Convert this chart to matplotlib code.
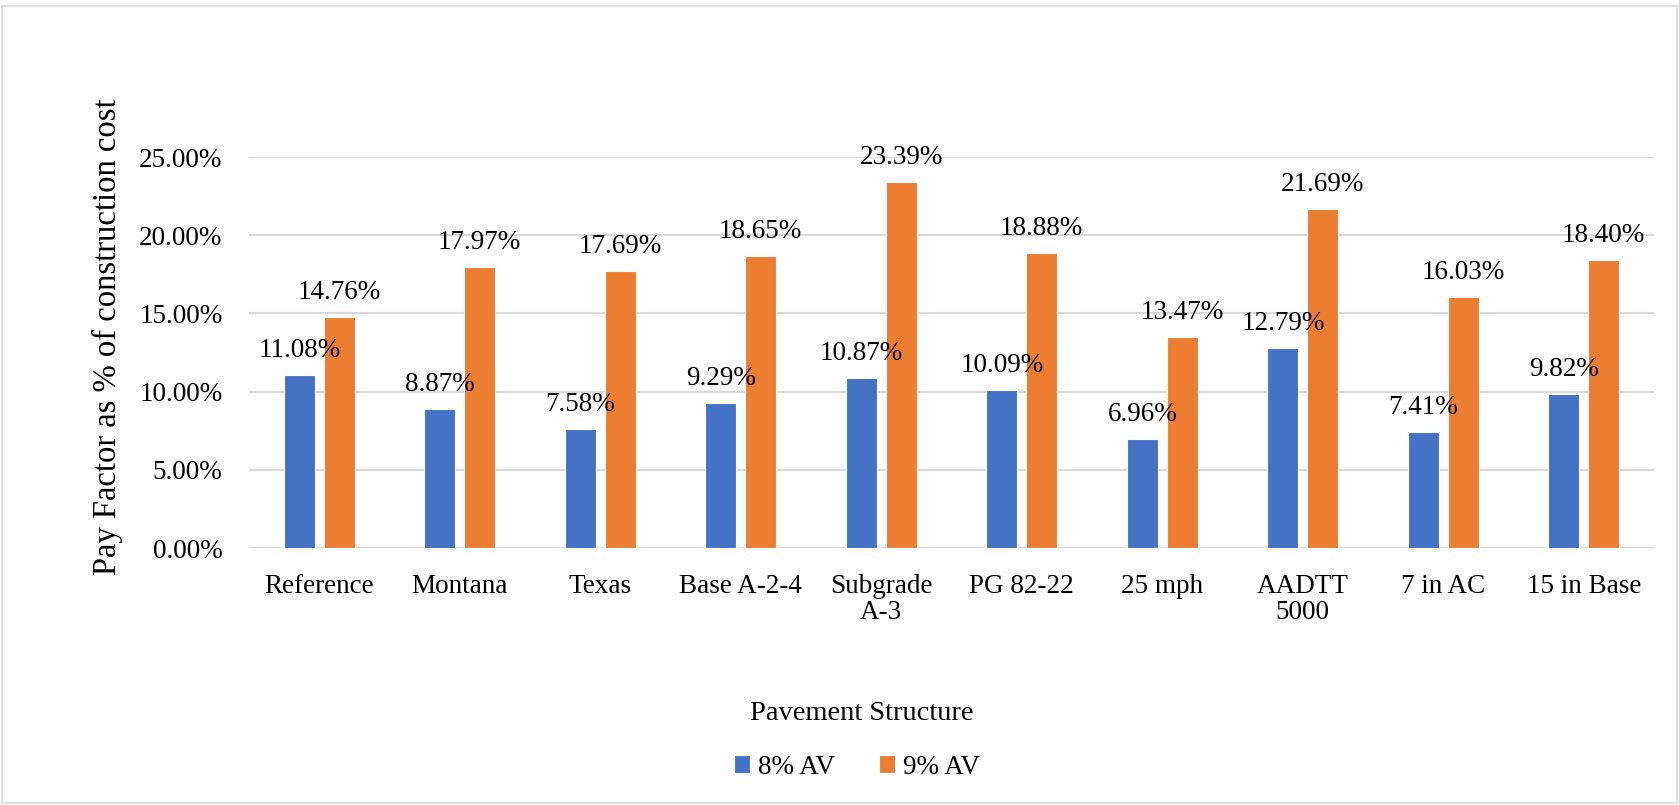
import numpy as np
import matplotlib.pyplot as plt
from matplotlib.patches import Rectangle
from matplotlib.ticker import PercentFormatter

# data (percent of construction cost)
structures = ["Reference", "Montana", "Texas", "Base A-2-4", "Subgrade\nA-3",
              "PG 82-22", "25 mph", "AADTT\n5000", "7 in AC", "15 in Base"]
av8 = [11.08, 8.87, 7.58, 9.29, 10.87, 10.09, 6.96, 12.79, 7.41, 9.82]
av9 = [14.76, 17.97, 17.69, 18.65, 23.39, 18.88, 13.47, 21.69, 16.03, 18.40]

blue = "#4472C4"
orange = "#ED7D31"
grid_col = "#D9D9D9"

plt.rcParams['font.family'] = ['Liberation Serif', 'DejaVu Serif']
fs = 19.5

fig = plt.figure(figsize=(16.79, 8.05), dpi=100)
ax = fig.add_axes([249 / 1679, 1 - 548 / 805, 1405 / 1679, (548 - 157) / 805])

x = np.arange(len(structures))
w = 0.22
off = 0.142
b1 = ax.bar(x - off, av8, w, color=blue, edgecolor="white", linewidth=0.8, label="8% AV", zorder=3)
b2 = ax.bar(x + off, av9, w, color=orange, edgecolor="white", linewidth=0.8, label="9% AV", zorder=3)

for bars, vals in ((b1, av8), (b2, av9)):
    for r, v in zip(bars, vals):
        ax.annotate(f"{v:.2f}%", (r.get_x() + r.get_width() / 2, v),
                    xytext=(0, 13), textcoords="offset points",
                    ha="center", va="baseline", fontsize=fs, zorder=4)

ax.set_xlim(-0.5, len(structures) - 0.5)
ax.set_ylim(0, 25)
ax.set_yticks(np.arange(0, 26, 5))
ax.yaxis.set_major_formatter(PercentFormatter(decimals=2))
ax.set_xticks(x)
ax.set_xticklabels(structures, fontsize=fs, linespacing=1.05)
ax.tick_params(axis="y", labelsize=fs, length=0, pad=19)
ax.tick_params(axis="x", length=0, pad=19)
ax.grid(axis="y", color=grid_col, linewidth=1.5, zorder=0)
ax.set_axisbelow(True)
for s in ax.spines.values():
    s.set_visible(False)

fig.text(107 / 1679, 1 - 337 / 805, "Pay Factor as % of construction cost",
         fontsize=23.5, rotation=90, ha="center", va="center")
fig.text(862 / 1679, 1 - 713 / 805, "Pavement Structure", fontsize=20.5,
         ha="center", va="center")

fig.legend(handles=[b1, b2], loc="center", bbox_to_anchor=(857 / 1679, 1 - 767 / 805),
           ncol=2, frameon=False, fontsize=fs, handlelength=0.6, handleheight=0.6,
           handletextpad=0.3, columnspacing=1.6)

fig.patches.append(Rectangle((2 / 1679, 2 / 805), 1 - 4 / 1679, 1 - 8 / 805,
                             transform=fig.transFigure, fill=False,
                             edgecolor="#D9D9D9", linewidth=1.2))

fig.savefig("out.png", dpi=100)
